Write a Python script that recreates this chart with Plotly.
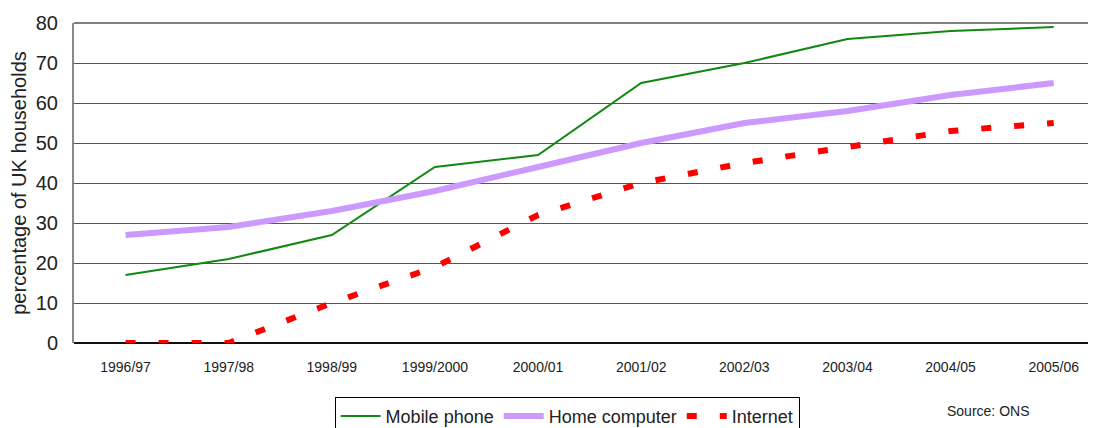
import plotly.graph_objects as go

years = ['1996/97', '1997/98', '1998/99', '1999/2000', '2000/01',
         '2001/02', '2002/03', '2003/04', '2004/05', '2005/06']
mobile_phone = [17, 21, 27, 44, 47, 65, 70, 76, 78, 79]
home_computer = [27, 29, 33, 38, 44, 50, 55, 58, 62, 65]
internet = [0, 0, 10, 19, 32, 40, 45, 49, 53, 55]

FONT = "Liberation Sans, Arial"

fig = go.Figure()
fig.add_trace(go.Scatter(x=years, y=mobile_phone, name='Mobile phone', mode='lines',
                         line=dict(color='#118811', width=2)))
fig.add_trace(go.Scatter(x=years, y=home_computer, name='Home computer', mode='lines',
                         line=dict(color='#cc99ff', width=6)))
fig.add_trace(go.Scatter(x=years, y=internet, name='Internet', mode='lines',
                         line=dict(color='#ff0000', width=6, dash='10px,23px')))

# page body has an 8px margin, so the figure is sized to fit the window
fig.update_layout(
    width=1088, height=420,
    plot_bgcolor='white', paper_bgcolor='white',
    font=dict(family=FONT, size=14, color='#222'),
    margin=dict(l=66, r=0, t=15, b=85, autoexpand=False),
    showlegend=True,
    legend=dict(orientation='h', x=0.255, y=-0.168, xanchor='left', yanchor='top',
                bordercolor='#000', borderwidth=1, font=dict(size=18),
                itemwidth=40, tracegroupgap=0),
    annotations=[dict(text='Source: ONS', x=0.894, y=-0.18, xref='paper', yref='paper',
                      showarrow=False, font=dict(size=14), xanchor='center', yanchor='top')],
    # darker top border of the plot area
    shapes=[dict(type='line', xref='paper', yref='paper', x0=0, x1=1, y0=1, y1=1,
                 line=dict(color='#808080', width=2))],
)
fig.update_xaxes(range=[-0.5, 9.41], showgrid=False, ticks='', showline=False,
                 tickfont=dict(size=14), ticklabelstandoff=14, automargin=False)
fig.update_yaxes(range=[0, 80], dtick=10, showgrid=True, gridcolor='#555', gridwidth=1,
                 zeroline=True, zerolinecolor='#111', zerolinewidth=1.5,
                 showline=True, linecolor='#888', linewidth=2, mirror=False,
                 tickfont=dict(size=20), ticks='', ticklabelstandoff=10, automargin=False,
                 title=dict(text='percentage of UK households', font=dict(size=20), standoff=14))

fig.write_html("out.html")
